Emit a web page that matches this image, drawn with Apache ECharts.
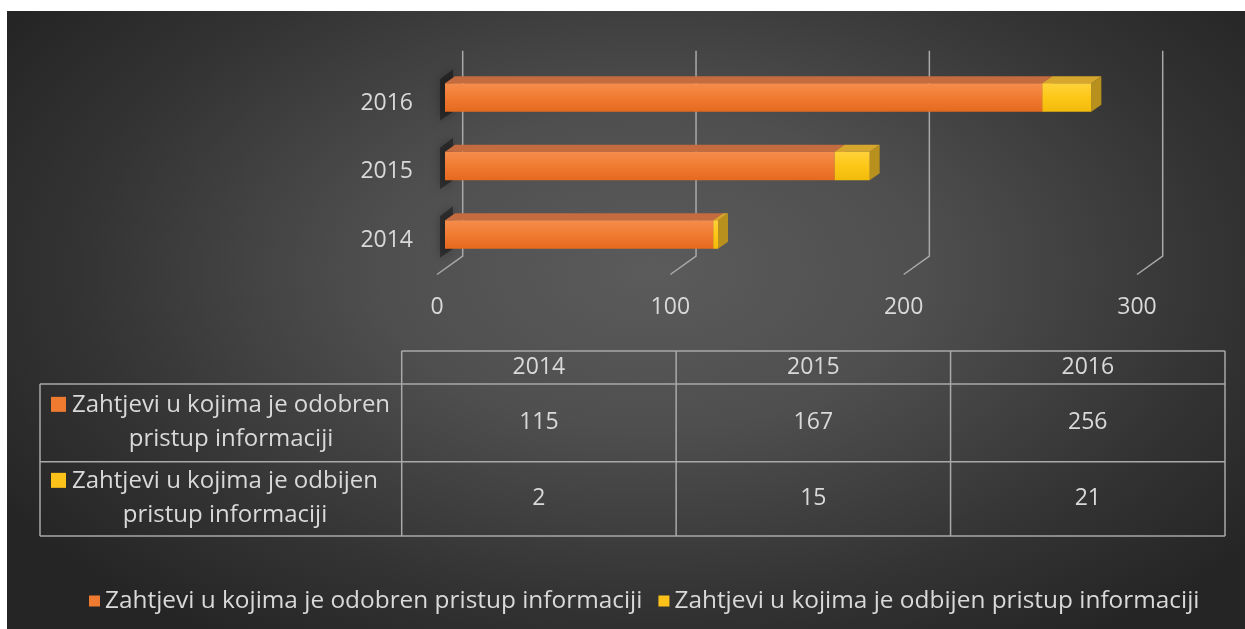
<!DOCTYPE html>
<html>
<head>
<meta charset="utf-8">
<script src="https://cdn.jsdelivr.net/npm/echarts@6/dist/echarts.min.js"></script>
<style>
  html, body { margin: 0; padding: 0; background: #ffffff; }
  #fundo {
    position: absolute; left: 7px; top: 11px; width: 1238px; height: 618px;
    background: radial-gradient(ellipse 62% 72% at 52% 42%, #5b5b5b 0%, #4f4f4f 35%, #333333 75%, #252525 100%);
  }
  #grafico { position: absolute; left: 0; top: 0; width: 1245px; height: 629px; }
</style>
</head>
<body>
<div id="fundo"></div>
<div id="grafico"></div>
<script>
// dados do gráfico
const godine = ['2014', '2015', '2016'];
const odobren = [115, 167, 256];
const odbijen = [2, 15, 21];
const xTicks = [0, 100, 200, 300];
const nazivi = [
    'Zahtjevi u kojima je odobren pristup informaciji',
    'Zahtjevi u kojima je odbijen pristup informaciji'
];
const redoviTabele = [
    ['Zahtjevi u kojima je odobren', 'pristup informaciji'],
    ['Zahtjevi u kojima je odbijen', 'pristup informaciji']
];

// cores
const LARANJA = { frente: ['#f58d4d', '#f07b31', '#e5691f'], topo: '#c46b40', lado: '#b85a22', legenda: '#ef7b30' };
const AMARELO = { frente: ['#ffd23a', '#fdc717', '#f2bb0c'], topo: '#d6a72c', lado: '#b8901e', legenda: '#fcc21a' };
const TEXTO = '#d9d9d9';
const LINHA = '#a9a9a9';
const FONTE = '"Open Sans", sans-serif';

// profundidade 3D
const PAREDE_DX = 25.7, PAREDE_DY = 18.3;
const BARRA_OFF_X = 8, BARRA_OFF_Y = 5.7, BARRA_ALT = 28.4;
const BARRA_DX = 10, BARRA_DY = 7;

function renderParede(params, api) {
    const cs = params.coordSys;
    const x = api.coord([api.value(0), 0])[0];
    const baixo = cs.y + cs.height;
    return {
        type: 'polyline',
        shape: { points: [[x + PAREDE_DX, cs.y - PAREDE_DY], [x + PAREDE_DX, baixo - PAREDE_DY], [x, baixo]] },
        style: { stroke: LINHA, lineWidth: 1.5, fill: null },
        silent: true
    };
}

function fabricaCaixa(cor, comSombra) {
    return function (params, api) {
        const cat = api.value(2);
        const ini = api.coord([api.value(0), cat]);
        const fim = api.coord([api.value(1), cat]);
        const x0 = ini[0] + BARRA_OFF_X, x1 = fim[0] + BARRA_OFF_X;
        const yc = ini[1] - BARRA_OFF_Y;
        const yt = yc - BARRA_ALT / 2, yb = yc + BARRA_ALT / 2;
        const filhos = [];
        if (comSombra) {
            // sombra na parede lateral
            filhos.push({
                type: 'polygon',
                shape: { points: [[x0 - 5, yt - 4], [x0 + 8, yt - 14], [x0 + 8, yb], [x0 - 5, yb + 9]] },
                style: { fill: 'rgba(0,0,0,0.38)', shadowBlur: 10, shadowColor: 'rgba(0,0,0,0.7)' }
            });
        }
        filhos.push({
            type: 'polygon',
            shape: { points: [[x1, yt], [x1 + BARRA_DX, yt - BARRA_DY], [x1 + BARRA_DX, yb - BARRA_DY], [x1, yb]] },
            style: { fill: cor.lado }
        });
        filhos.push({
            type: 'polygon',
            shape: { points: [[x0, yt], [x0 + BARRA_DX, yt - BARRA_DY], [x1 + BARRA_DX, yt - BARRA_DY], [x1, yt]] },
            style: { fill: cor.topo }
        });
        filhos.push({
            type: 'rect',
            shape: { x: x0, y: yt, width: Math.max(x1 - x0, 0), height: BARRA_ALT },
            style: {
                fill: new echarts.graphic.LinearGradient(0, 0, 0, 1, [
                    { offset: 0, color: cor.frente[0] },
                    { offset: 0.5, color: cor.frente[1] },
                    { offset: 1, color: cor.frente[2] }
                ])
            }
        });
        return { type: 'group', children: filhos };
    };
}

// tabela de dados (abaixo do gráfico)
const TAB = {
    esq: 40, colIni: 401.7, colFim: 1225,
    yCab: 351, yLinhas: [384, 461.7, 536]
};

function medirTexto(txt, tamanho) {
    const ctx = document.createElement('canvas').getContext('2d');
    ctx.font = tamanho + 'px ' + FONTE;
    return ctx.measureText(txt).width;
}

function montarTabela() {
    const el = [];
    const larg = (TAB.colFim - TAB.colIni) / godine.length;
    const estiloLinha = { stroke: LINHA, lineWidth: 1.5 };
    const linha = (x1, y1, x2, y2) => el.push({ type: 'line', shape: { x1, y1, x2, y2 }, style: estiloLinha, silent: true });

    linha(TAB.colIni, TAB.yCab, TAB.colFim, TAB.yCab);
    TAB.yLinhas.forEach(y => linha(TAB.esq, y, TAB.colFim, y));
    linha(TAB.esq, TAB.yLinhas[0], TAB.esq, TAB.yLinhas[2]);
    for (let i = 0; i <= godine.length; i++) {
        const x = TAB.colIni + i * larg;
        linha(x, TAB.yCab, x, TAB.yLinhas[2]);
    }

    const texto = (txt, x, y, tam, align) => el.push({
        type: 'text', x, y, silent: true,
        style: { text: txt, fill: TEXTO, font: tam + 'px ' + FONTE, align: align || 'center', verticalAlign: 'middle', textAlign: align || 'center', textVerticalAlign: 'middle' }
    });

    godine.forEach((g, i) => {
        const cx = TAB.colIni + (i + 0.5) * larg;
        texto(g, cx, (TAB.yCab + TAB.yLinhas[0]) / 2, 23);
        texto(String(odobren[i]), cx, (TAB.yLinhas[0] + TAB.yLinhas[1]) / 2, 23);
        texto(String(odbijen[i]), cx, (TAB.yLinhas[1] + TAB.yLinhas[2]) / 2, 23);
    });

    const cores = [LARANJA.legenda, AMARELO.legenda];
    redoviTabele.forEach((r, i) => {
        const yTopo = TAB.yLinhas[i], yBaixo = TAB.yLinhas[i + 1];
        const yMeio = (yTopo + yBaixo) / 2;
        const xTexto = 72;
        const w1 = medirTexto(r[0], 24);
        el.push({ type: 'rect', shape: { x: 51, y: yMeio - 26, width: 15, height: 15 }, style: { fill: cores[i] }, silent: true });
        texto(r[0], xTexto, yMeio - 18, 24, 'left');
        texto(r[1], xTexto + w1 / 2, yMeio + 16, 24);
    });
    return el;
}

const chart = echarts.init(document.getElementById('grafico'));

chart.setOption({
    backgroundColor: 'transparent',
    animation: false,
    textStyle: { fontFamily: FONTE },
    grid: { left: 437, top: 69, width: 700, height: 205.5 },
    xAxis: {
        type: 'value', min: 0, max: 300, interval: 100,
        axisLine: { show: false }, axisTick: { show: false }, splitLine: { show: false },
        axisLabel: { color: TEXTO, fontSize: 23, margin: 21 }
    },
    yAxis: {
        type: 'category', data: godine,
        axisLine: { show: false }, axisTick: { show: false },
        axisLabel: { color: TEXTO, fontSize: 23, margin: 24 }
    },
    legend: {
        data: [
            { name: nazivi[0], icon: 'rect', itemStyle: { color: LARANJA.legenda } },
            { name: nazivi[1], icon: 'rect', itemStyle: { color: AMARELO.legenda } }
        ],
        left: 84, top: 584,
        itemWidth: 11, itemHeight: 11, itemGap: 16,
        textStyle: { color: TEXTO, fontSize: 24.4, fontFamily: FONTE }
    },
    graphic: { elements: montarTabela() },
    series: [
        {
            name: 'parede', type: 'custom', silent: true, clip: false,
            data: xTicks.map(v => [v, 0]),
            renderItem: renderParede, z: 1
        },
        {
            name: nazivi[0], type: 'custom', clip: false,
            itemStyle: { color: LARANJA.legenda },
            encode: { x: [0, 1], y: 2 },
            data: odobren.map((v, i) => [0, v, i]),
            renderItem: fabricaCaixa(LARANJA, true), z: 2
        },
        {
            name: nazivi[1], type: 'custom', clip: false,
            itemStyle: { color: AMARELO.legenda },
            encode: { x: [0, 1], y: 2 },
            data: odbijen.map((v, i) => [odobren[i], odobren[i] + v, i]),
            renderItem: fabricaCaixa(AMARELO, false), z: 3
        }
    ]
});

window.addEventListener('resize', () => chart.resize());
</script>
</body>
</html>
